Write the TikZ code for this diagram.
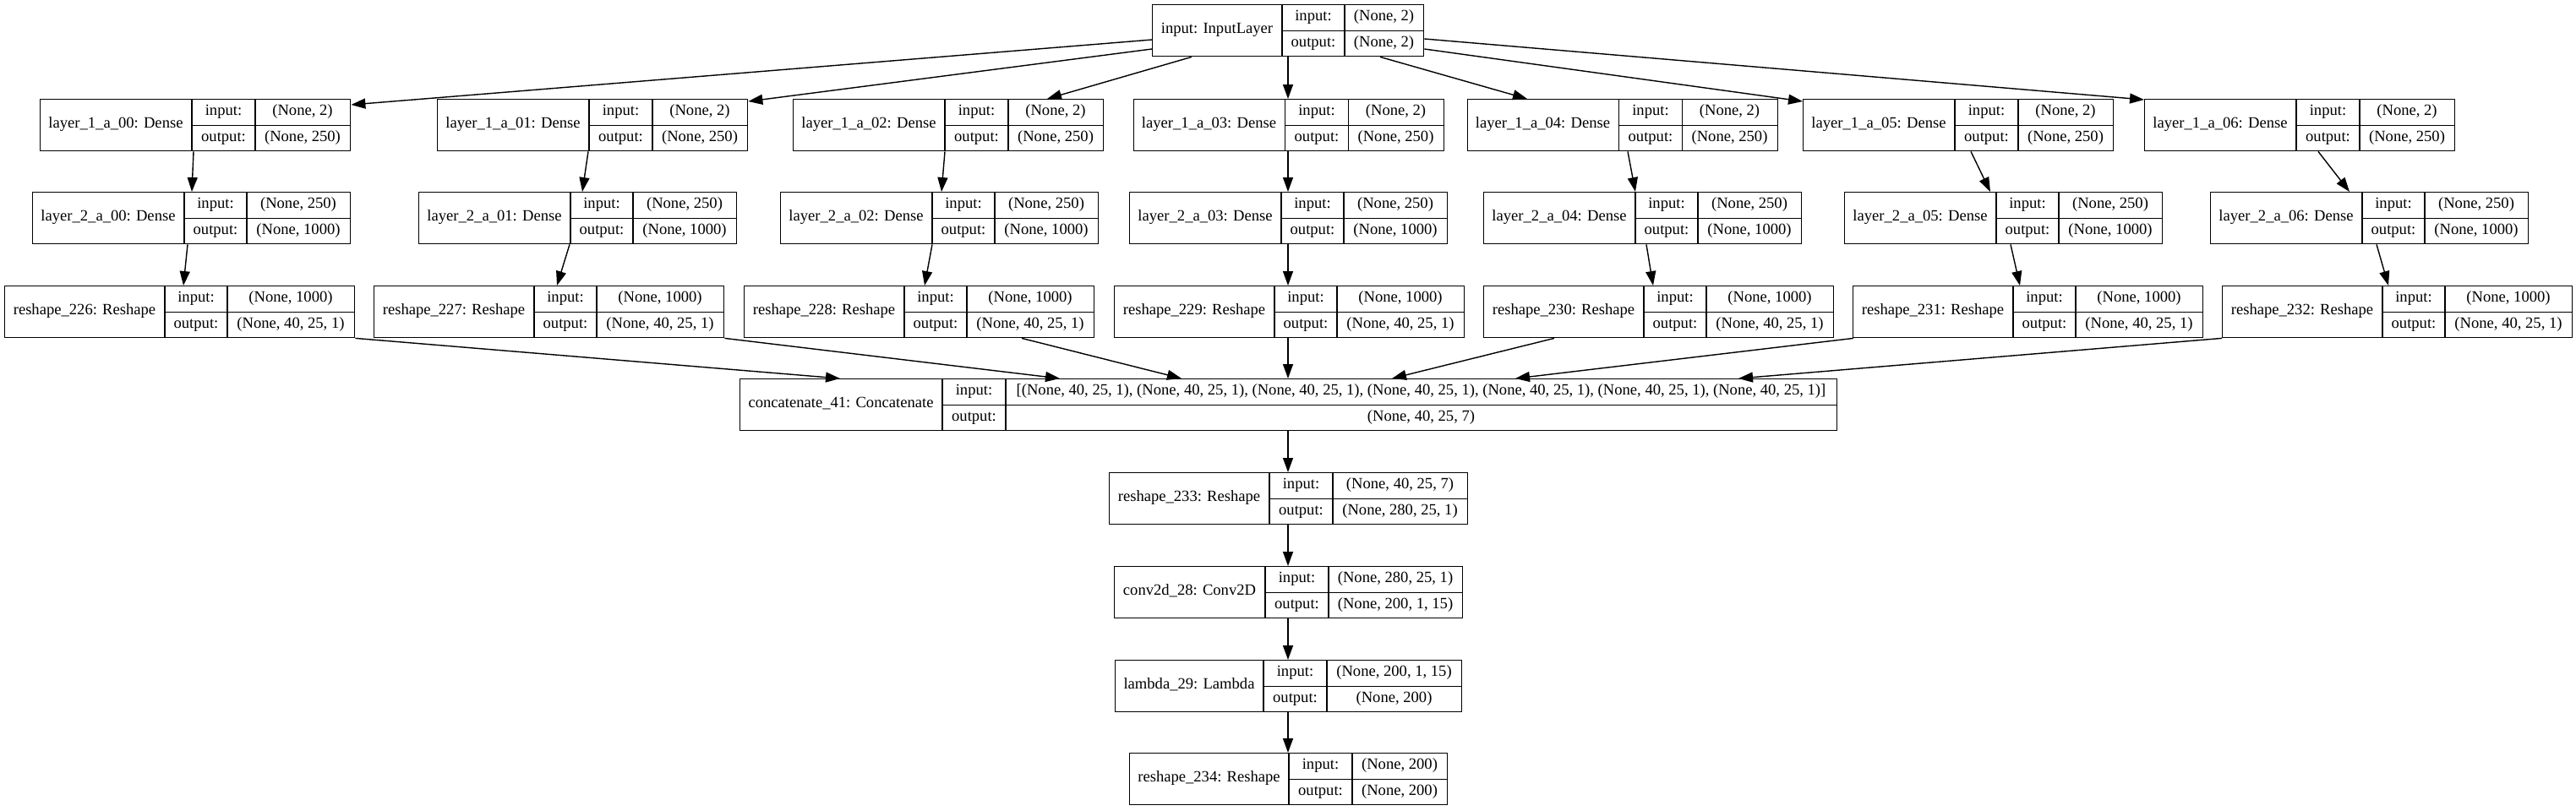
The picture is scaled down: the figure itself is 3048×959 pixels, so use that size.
\documentclass[tikz,border=0pt]{standalone}
\usepackage{fontspec}
\setmainfont{Liberation Serif}
\usetikzlibrary{arrows.meta,calc}
\tikzset{
  recbox/.style={draw, line width=0.7pt, inner sep=0pt, minimum height=30.5pt},
  recline/.style={line width=0.7pt},
  rectext/.style={inner sep=0pt, font=\fontsize{9.3}{11}\selectfont, text height=6.6pt, text depth=2.2pt, anchor=center},
  edge/.style={line width=0.7pt, -{Triangle[length=8.5pt,width=6pt]}}
}
% name, x, y, width, label width, input width, label, input shape, output shape
\newcommand\krec[9]{%
  \node[recbox, minimum width=#4*0.5pt, anchor=north west] (#1) at (#2,#3) {};
  \draw[recline] ($(#1.north west)+(#5,0)$) -- ($(#1.south west)+(#5,0)$);
  \draw[recline] ($(#1.north west)+({#5+#6},0)$) -- ($(#1.south west)+({#5+#6},0)$);
  \draw[recline] ($(#1.west)+(#5,0)$) -- (#1.east);
  \node[rectext] (#1-lab) at ({#2+#5/2},{#3+30.5}) {#7};
  \node[rectext] (#1-inl) at ({#2+#5+#6/2},{#3+15.25}) {input:};
  \node[rectext] (#1-outl) at ({#2+#5+#6/2},{#3+45.75}) {output:};
  \node[rectext] (#1-ins) at ({#2+(#4+#5+#6)/2},{#3+15.25}) {#8};
  \node[rectext] (#1-outs) at ({#2+(#4+#5+#6)/2},{#3+45.75}) {#9};
}
\begin{document}
\begin{tikzpicture}[x=0.5pt,y=-0.5pt]
\useasboundingbox (0,0) rectangle (3048,959);
\fill[white] (0,0) rectangle (3048,959);

\krec{in}{1363}{5}{321}{154}{74}{input: InputLayer}{(None, 2)}{(None, 2)}

\krec{l100}{47}{117}{367}{180}{75}{layer\_1\_a\_00: Dense}{(None, 2)}{(None, 250)}
\krec{l101}{517}{117}{367}{180}{75}{layer\_1\_a\_01: Dense}{(None, 2)}{(None, 250)}
\krec{l102}{938}{117}{367}{180}{75}{layer\_1\_a\_02: Dense}{(None, 2)}{(None, 250)}
\krec{l103}{1340.5}{117}{367}{180}{75}{layer\_1\_a\_03: Dense}{(None, 2)}{(None, 250)}
\krec{l104}{1735.5}{117}{367}{180}{75}{layer\_1\_a\_04: Dense}{(None, 2)}{(None, 250)}
\krec{l105}{2133}{117}{367}{180}{75}{layer\_1\_a\_05: Dense}{(None, 2)}{(None, 250)}
\krec{l106}{2537}{117}{367}{180}{75}{layer\_1\_a\_06: Dense}{(None, 2)}{(None, 250)}

\krec{l200}{38}{227}{376}{180}{74}{layer\_2\_a\_00: Dense}{(None, 250)}{(None, 1000)}
\krec{l201}{495}{227}{376}{180}{74}{layer\_2\_a\_01: Dense}{(None, 250)}{(None, 1000)}
\krec{l202}{923}{227}{376}{180}{74}{layer\_2\_a\_02: Dense}{(None, 250)}{(None, 1000)}
\krec{l203}{1336}{227}{376}{180}{74}{layer\_2\_a\_03: Dense}{(None, 250)}{(None, 1000)}
\krec{l204}{1755}{227}{376}{180}{74}{layer\_2\_a\_04: Dense}{(None, 250)}{(None, 1000)}
\krec{l205}{2182}{227}{376}{180}{74}{layer\_2\_a\_05: Dense}{(None, 250)}{(None, 1000)}
\krec{l206}{2615}{227}{376}{180}{74}{layer\_2\_a\_06: Dense}{(None, 250)}{(None, 1000)}

\krec{r226}{5}{338}{414}{190}{74}{reshape\_226: Reshape}{(None, 1000)}{(None, 40, 25, 1)}
\krec{r227}{442}{338}{414}{190}{74}{reshape\_227: Reshape}{(None, 1000)}{(None, 40, 25, 1)}
\krec{r228}{880}{338}{414}{190}{74}{reshape\_228: Reshape}{(None, 1000)}{(None, 40, 25, 1)}
\krec{r229}{1318}{338}{414}{190}{74}{reshape\_229: Reshape}{(None, 1000)}{(None, 40, 25, 1)}
\krec{r230}{1755}{338}{414}{190}{74}{reshape\_230: Reshape}{(None, 1000)}{(None, 40, 25, 1)}
\krec{r231}{2192}{338}{414}{190}{74}{reshape\_231: Reshape}{(None, 1000)}{(None, 40, 25, 1)}
\krec{r232}{2629}{338}{414}{190}{74}{reshape\_232: Reshape}{(None, 1000)}{(None, 40, 25, 1)}

\krec{cc}{875}{448}{1298}{240}{75}{concatenate\_41: Concatenate}{[(None, 40, 25, 1), (None, 40, 25, 1), (None, 40, 25, 1), (None, 40, 25, 1), (None, 40, 25, 1), (None, 40, 25, 1), (None, 40, 25, 1)]}{(None, 40, 25, 7)}

\krec{r233}{1312}{559}{424}{190}{75}{reshape\_233: Reshape}{(None, 40, 25, 7)}{(None, 280, 25, 1)}
\krec{cv}{1318}{670}{412}{179}{75}{conv2d\_28: Conv2D}{(None, 280, 25, 1)}{(None, 200, 1, 15)}
\krec{lb}{1319}{781}{410}{176}{75}{lambda\_29: Lambda}{(None, 200, 1, 15)}{(None, 200)}
\krec{r234}{1336}{891}{376}{189}{75}{reshape\_234: Reshape}{(None, 200)}{(None, 200)}

% input -> layer 1
\draw[edge] ($(in.north west)+(0,42)$) -- ($(l100.north east)+(0,7)$);
\draw[edge] ($(in.north west)+(0,53)$) -- ($(l101.north east)+(0,3)$);
\draw[edge] ($(in.south west)+(47,0)$) -- ($(l102.north west)+(301,0)$);
\coordinate (v1) at ($(in.south west)+(161,0)$);
\draw[edge] (v1) -- (v1 |- l103.north);
\draw[edge] ($(in.south west)+(270,0)$) -- ($(l104.north west)+(71.5,0)$);
\draw[edge] ($(in.north east)+(0,53)$) -- ($(l105.north west)+(0,3)$);
\draw[edge] ($(in.north east)+(0,41)$) -- ($(l106.north west)+(0,1)$);

% layer 1 -> layer 2
\draw[edge] ($(l100.south west)+(182,0)$) -- ($(l200.north west)+(189,0)$);
\draw[edge] ($(l101.south west)+(179,0)$) -- ($(l201.north west)+(194,0)$);
\draw[edge] ($(l102.south west)+(180,0)$) -- ($(l202.north west)+(191,0)$);
\coordinate (v2) at ($(l103.south west)+(183.5,0)$);
\draw[edge] (v2) -- (v2 |- l203.north);
\draw[edge] ($(l104.south west)+(190.5,0)$) -- ($(l204.north west)+(180,0)$);
\draw[edge] ($(l105.south west)+(199,0)$) -- ($(l205.north west)+(173,0)$);
\draw[edge] ($(l106.south west)+(206,0)$) -- ($(l206.north west)+(165,0)$);

% layer 2 -> reshape
\draw[edge] ($(l200.south west)+(184,0)$) -- ($(r226.north west)+(212,0)$);
\draw[edge] ($(l201.south west)+(179,0)$) -- ($(r227.north west)+(217,0)$);
\draw[edge] ($(l202.south west)+(180,0)$) -- ($(r228.north west)+(214,0)$);
\coordinate (v3) at ($(l203.south west)+(188,0)$);
\draw[edge] (v3) -- (v3 |- r229.north);
\draw[edge] ($(l204.south west)+(193,0)$) -- ($(r230.north west)+(201,0)$);
\draw[edge] ($(l205.south west)+(197,0)$) -- ($(r231.north west)+(198,0)$);
\draw[edge] ($(l206.south west)+(197,0)$) -- ($(r232.north west)+(197,0)$);

% reshape -> concatenate
\draw[edge] (r226.south east) -- ($(cc.north west)+(119,0)$);
\draw[edge] (r227.south east) -- ($(cc.north west)+(379,0)$);
\draw[edge] ($(r228.south west)+(329,0)$) -- ($(cc.north west)+(523,0)$);
\coordinate (v4) at ($(r229.south west)+(206,0)$);
\draw[edge] (v4) -- (v4 |- cc.north);
\draw[edge] ($(r230.south west)+(84,0)$) -- ($(cc.north west)+(772,0)$);
\draw[edge] ($(r231.south west)+(1,0)$) -- ($(cc.north west)+(918,0)$);
\draw[edge] (r232.south west) -- ($(cc.north west)+(1182,0)$);

% trunk
\coordinate (v5) at ($(cc.south west)+(649,0)$);
\draw[edge] (v5) -- (v5 |- r233.north);
\coordinate (v6) at ($(r233.south west)+(212,0)$);
\draw[edge] (v6) -- (v6 |- cv.north);
\coordinate (v7) at ($(cv.south west)+(206,0)$);
\draw[edge] (v7) -- (v7 |- lb.north);
\coordinate (v8) at ($(lb.south west)+(205,0)$);
\draw[edge] (v8) -- (v8 |- r234.north);
\end{tikzpicture}
\end{document}
